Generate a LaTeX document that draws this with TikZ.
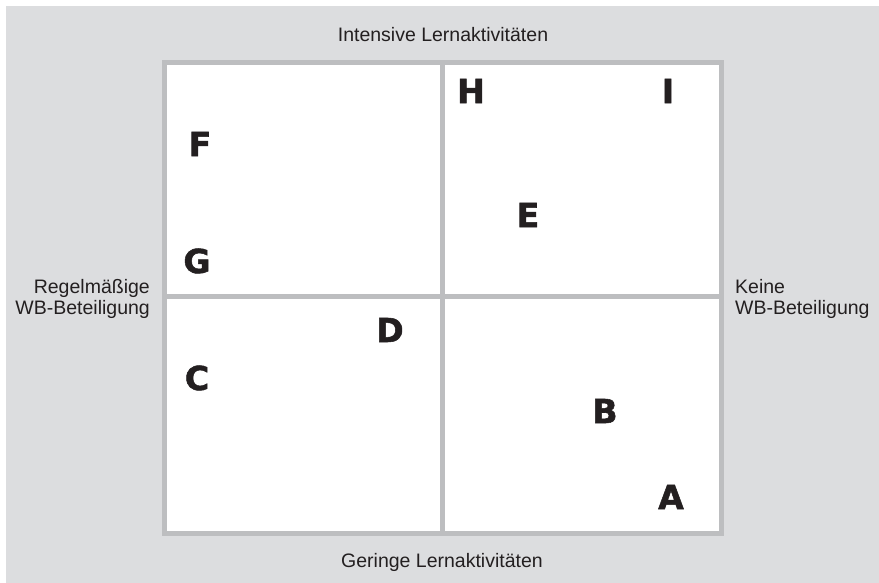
\documentclass[tikz,border=0pt]{standalone}
\usepackage{fontspec}
\setmainfont{Liberation Sans}
\newfontfamily\dickfont{DejaVu Sans}[BoldFeatures={FakeBold=1.6}]
\usetikzlibrary{positioning}
\definecolor{grund}{HTML}{DCDDDF}
\definecolor{rahmen}{HTML}{BDBEC0}
\definecolor{schrift}{HTML}{231F20}
\tikzset{
  achse/.style={inner sep=0pt,text=schrift,font=\fontsize{19.5}{21}\selectfont},
  buch/.style={inner sep=0pt,text=schrift,font=\dickfont\bfseries\fontsize{33}{33}\selectfont},
  linie/.style={draw=rahmen,line width=5pt},
}

\begin{document}
\begin{tikzpicture}[x=1pt,y=-1pt]
  \useasboundingbox (0,0) rectangle (879,583);
  \fill[grund] (6,6) rectangle (879,583);
  % Rahmen und Achsen
  \coordinate (lo) at (164.5,62.5);
  \coordinate (ru) at (721.5,533.5);
  \coordinate (mo) at (442.5,62.5);
  \coordinate (mu) at (442.5,533.5);
  \coordinate (ml) at (164.5,296.5);
  \coordinate (mr) at (721.5,296.5);
  \fill[white] (lo) rectangle (ru);
  \draw[linie] (lo) rectangle (ru);
  \draw[linie] (mo) -- (mu);
  \draw[linie] (ml) -- (mr);
  % Achsenbeschriftung
  \node[achse,anchor=base] (oben) at (443,42) {Intensive Lernaktivitäten};
  \node[achse,anchor=base] (unten) at (442,567) {Geringe Lernaktivitäten};
  \node[achse,anchor=base east,align=right] (links) at (150,314) {Regelmäßige\\WB-Beteiligung};
  \node[achse,anchor=base west,align=left] (rechts) at (735,314) {Keine\\WB-Beteiligung};
  % Typen
  \node[buch] (H) at (471,91) {H};
  \node[buch] (I) at (668,91) {I};
  \node[buch] (E) at (528,215) {E};
  \node[buch] (F) at (200,144) {F};
  \node[buch] (G) at (197,261) {G};
  \node[buch] (D) at (390,330) {D};
  \node[buch] (C) at (197,378) {C};
  \node[buch] (B) at (605,411) {B};
  \node[buch] (A) at (671,497) {A};
\end{tikzpicture}
\end{document}
